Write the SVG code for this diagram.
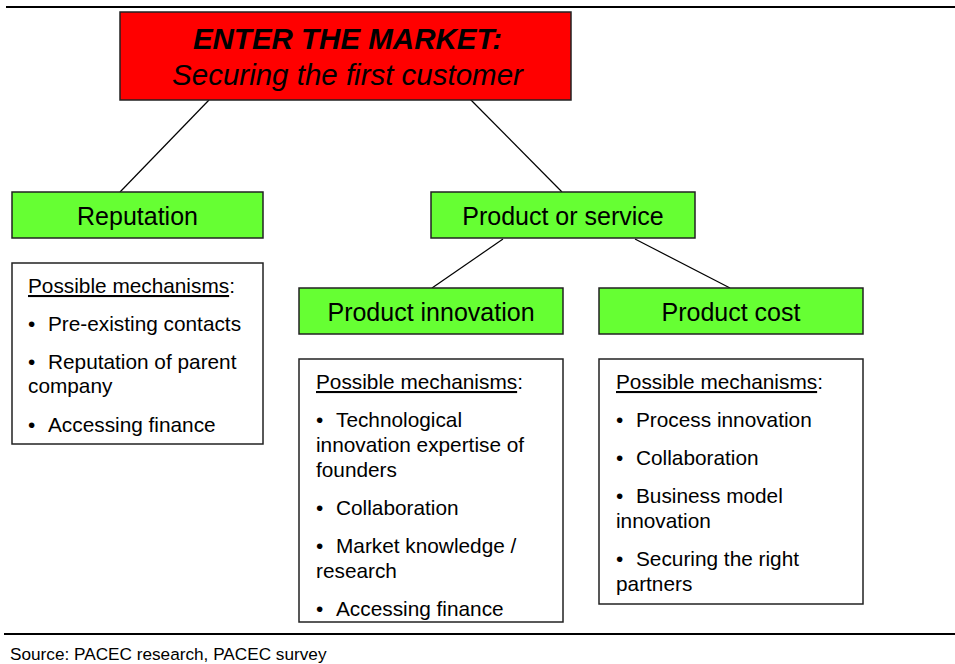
<svg xmlns="http://www.w3.org/2000/svg" width="955" height="664" viewBox="0 0 955 664">
<style>
text{font-family:"Liberation Sans",Arial,sans-serif;fill:#000}
.g{fill:#66ff33;stroke:#222;stroke-width:1.5}
.b{fill:#fff;stroke:#222;stroke-width:1.5}
.lab{font-size:25px;text-anchor:middle}
.m{font-size:20.8px}
.c{stroke:#000;stroke-width:1.2;fill:none}
</style>
<line x1="6" y1="7" x2="955" y2="7" stroke="#000" stroke-width="2"/>
<line x1="4" y1="634" x2="955" y2="634" stroke="#000" stroke-width="2"/>
<g id="connectors">
<line class="c" x1="209" y1="100" x2="120" y2="192"/>
<line class="c" x1="468" y1="97" x2="562" y2="192"/>
<line class="c" x1="503" y1="239" x2="432" y2="288"/>
<line class="c" x1="635" y1="239" x2="730" y2="288"/>
</g>
<g id="root">
<rect x="120" y="12" width="451" height="88" fill="#ff0000" stroke="#222" stroke-width="1.5"/>
<text x="347.5" y="49" font-size="29.5" font-weight="bold" font-style="italic" text-anchor="middle">ENTER THE MARKET:</text>
<text x="347.5" y="85" font-size="29.5" font-style="italic" text-anchor="middle">Securing the first customer</text>
</g>
<g id="reputation">
<rect class="g" x="12" y="192" width="251" height="46"/>
<text class="lab" x="137.5" y="225">Reputation</text>
</g>
<g id="reputation-mech">
<rect class="b" x="12" y="263" width="251" height="181"/>
<text class="m" x="28" y="293"><tspan text-decoration="underline">Possible mechanisms</tspan>:</text>
<text class="m" x="28" y="331">•<tspan x="48">Pre-existing contacts</tspan></text>
<text class="m" x="28" y="369">•<tspan x="48">Reputation of parent</tspan></text>
<text class="m" x="28" y="393">company</text>
<text class="m" x="28" y="432">•<tspan x="48">Accessing finance</tspan></text>
</g>
<g id="product-service">
<rect class="g" x="431" y="192" width="264" height="46"/>
<text class="lab" x="563" y="225">Product or service</text>
</g>
<g id="product-innovation">
<rect class="g" x="299" y="288" width="264" height="46"/>
<text class="lab" x="431" y="321">Product innovation</text>
</g>
<g id="innovation-mech">
<rect class="b" x="299" y="359" width="264" height="263"/>
<text class="m" x="316" y="389"><tspan text-decoration="underline">Possible mechanisms</tspan>:</text>
<text class="m" x="316" y="427">•<tspan x="336">Technological</tspan></text>
<text class="m" x="316" y="452">innovation expertise of</text>
<text class="m" x="316" y="477">founders</text>
<text class="m" x="316" y="515">•<tspan x="336">Collaboration</tspan></text>
<text class="m" x="316" y="553">•<tspan x="336">Market knowledge /</tspan></text>
<text class="m" x="316" y="578">research</text>
<text class="m" x="316" y="616">•<tspan x="336">Accessing finance</tspan></text>
</g>
<g id="product-cost">
<rect class="g" x="599" y="288" width="264" height="46"/>
<text class="lab" x="731" y="321">Product cost</text>
</g>
<g id="cost-mech">
<rect class="b" x="599" y="359" width="264" height="245"/>
<text class="m" x="616" y="389"><tspan text-decoration="underline">Possible mechanisms</tspan>:</text>
<text class="m" x="616" y="427">•<tspan x="636">Process innovation</tspan></text>
<text class="m" x="616" y="465">•<tspan x="636">Collaboration</tspan></text>
<text class="m" x="616" y="503">•<tspan x="636">Business model</tspan></text>
<text class="m" x="616" y="528">innovation</text>
<text class="m" x="616" y="566">•<tspan x="636">Securing the right</tspan></text>
<text class="m" x="616" y="591">partners</text>
</g>
<text x="10" y="660" font-size="17.2">Source: PACEC research, PACEC survey</text>
</svg>
